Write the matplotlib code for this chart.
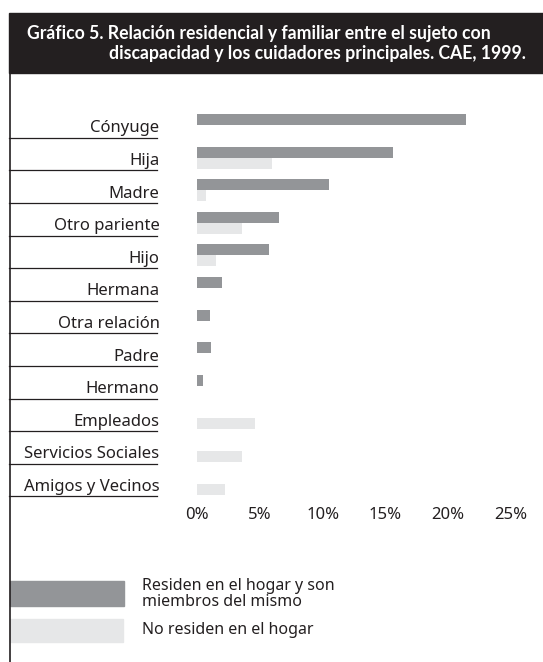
import matplotlib
matplotlib.use("Agg")
import matplotlib.pyplot as plt
from matplotlib.patches import Rectangle
from matplotlib.transforms import blended_transform_factory

# ── data ─────────────────────────────────────────────────────────────────
categories = ["Cónyuge", "Hija", "Madre", "Otro pariente", "Hijo", "Hermana",
              "Otra relación", "Padre", "Hermano", "Empleados",
              "Servicios Sociales", "Amigos y Vecinos"]
resident   = [21.4, 15.6, 10.5, 6.5, 5.7, 2.0, 1.05, 1.1, 0.5, 0, 0, 0]
non_res    = [0, 6.0, 0.7, 3.6, 1.5, 0, 0, 0, 0, 4.6, 3.6, 2.2]
xticks     = [0, 5, 10, 15, 20, 25]
xticklabels = ["0%", "5%", "10%", "15%", "20%", "25%"]
legend_labels = ["Residen en el hogar y son\nmiembros del mismo",
                 "No residen en el hogar"]
title_1 = "Gráfico 5. Relación residencial y familiar entre el sujeto con"
title_2 = "discapacidad y los cuidadores principales. CAE, 1999."

DARK  = "#939598"
LIGHT = "#e6e7e8"
INK   = "#231f20"
FONT  = "Noto Sans"
TFONT = "Lato"

W, H = 543, 662
fig = plt.figure(figsize=(W / 100, H / 100), dpi=100, facecolor="white")


def fx(px):
    return px / W


def fy(py):
    return 1 - py / H


# axes: x 0..25 mapped to px 197..511, rows spaced 32.6 px, row 0 at px 125
x0, x1 = 197, 511
r0, step = 125, 32.6
top_px, bot_px = 100, 500
ax = fig.add_axes([fx(x0), fy(bot_px), fx(x1) - fx(x0), (bot_px - top_px) / H])
ax.set_xlim(0, 25)
ax.set_ylim((bot_px - r0) / step, (top_px - r0) / step)

h = 11 / step
ys = list(range(len(categories)))
ax.barh([y - h / 2 for y in ys], resident, height=h, color=DARK, zorder=3)
ax.barh([y + h / 2 for y in ys], non_res, height=h, color=LIGHT, zorder=2)

for sp in ax.spines.values():
    sp.set_visible(False)
ax.set_xticks(xticks)
ax.set_xticklabels(xticklabels, fontfamily=FONT, fontsize=12, color=INK)
ax.tick_params(axis="x", length=0, pad=5)
ax.set_yticks([y + 0.04 for y in ys])
ax.set_yticklabels(categories, fontfamily=FONT, fontsize=12, color=INK)
ax.tick_params(axis="y", length=0, pad=27)

# separator lines under each label
tr = blended_transform_factory(fig.transFigure, ax.transData)
for y in ys:
    ax.plot([fx(9), fx(157)], [y + 0.39, y + 0.39], transform=tr,
            color=INK, linewidth=0.9, clip_on=False)

# ── title band ───────────────────────────────────────────────────────────
fig.patches.append(Rectangle((fx(9), fy(73)), 1 - fx(9), (73 - 13) / H,
                             transform=fig.transFigure, color=INK, zorder=0))
fig.text(fx(27), fy(34), title_1, fontfamily=TFONT, fontweight="bold",
         fontsize=12.7, color="white", va="center", ha="left")
fig.text(fx(526), fy(54), title_2, fontfamily=TFONT, fontweight="bold",
         fontsize=12.7, color="white", va="center", ha="right")

# left frame line
fig.add_artist(plt.Line2D([fx(9.5), fx(9.5)], [fy(73), 0], transform=fig.transFigure,
                          color=INK, linewidth=1.2))

# ── legend ───────────────────────────────────────────────────────────────
fig.patches.append(Rectangle((fx(10), fy(606)), fx(124) - fx(10), 25 / H,
                             transform=fig.transFigure, color=DARK))
fig.patches.append(Rectangle((fx(10), fy(642)), fx(123) - fx(10), 23 / H,
                             transform=fig.transFigure, color=LIGHT))
fig.text(fx(142), fy(594), legend_labels[0], fontfamily=FONT, fontsize=11.5,
         color=INK, va="center", ha="left", linespacing=1.0)
fig.text(fx(142), fy(630), legend_labels[1], fontfamily=FONT, fontsize=11.5,
         color=INK, va="center", ha="left")

fig.savefig("out.png", dpi=100, facecolor="white")
